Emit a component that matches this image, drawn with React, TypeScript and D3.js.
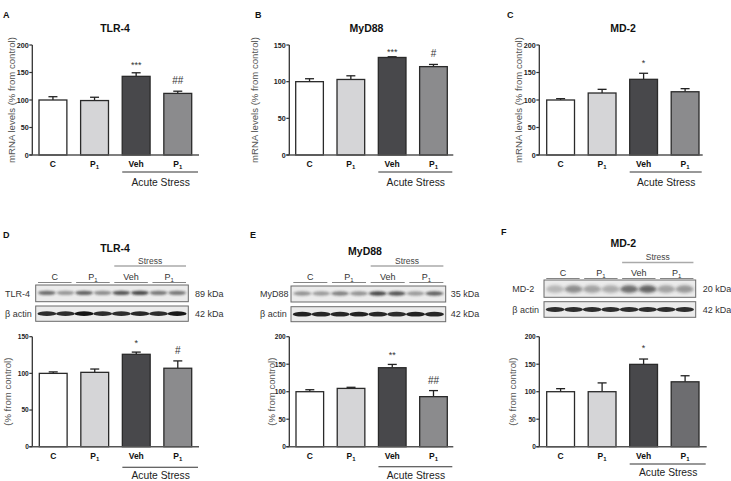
import React from "react";
import * as d3 from "d3";

// ---------- data ----------
const categories = ["C", "P1", "Veh", "P1"];
const barColors = ["#ffffff", "#d5d5d7", "#48484b", "#8b8b8d"];

const tlr4Mrna = [100, 99, 143, 112];
const tlr4MrnaErr = [6, 6, 6.5, 4];
const tlr4MrnaSig = ["", "", "***", "##"];

const myd88Mrna = [100, 103, 133, 120.5];
const myd88MrnaErr = [4, 5, 1, 3];
const myd88MrnaSig = ["", "", "***", "#"];

const md2Mrna = [100, 112.7, 137.6, 115];
const md2MrnaErr = [2.4, 6.7, 11, 5.6];
const md2MrnaSig = ["", "", "*", ""];

const tlr4Prot = [100, 101.4, 126, 107];
const tlr4ProtErr = [2, 4.5, 3, 10];
const tlr4ProtSig = ["", "", "*", "#"];

const myd88Prot = [100, 106, 143.6, 91];
const myd88ProtErr = [3.6, 2, 6, 11];
const myd88ProtSig = ["", "", "**", "##"];

const md2Prot = [100, 100, 149.7, 118];
const md2ProtErr = [5.5, 16, 9.7, 11];
const md2ProtSig = ["", "", "*", ""];

const ticks150 = [0, 50, 100, 150];
const ticks200 = [0, 50, 100, 150, 200];

// blot band intensities (8 lanes: C, C, P1, P1, Veh, Veh, P1, P1)
const tlr4Bands = [0.6, 0.4, 0.65, 0.45, 0.72, 0.78, 0.55, 0.55];
const tlr4Actin = [0.85, 0.85, 0.97, 0.85, 0.85, 0.88, 0.85, 0.95];
const myd88Bands = [0.42, 0.38, 0.5, 0.42, 0.78, 0.72, 0.38, 0.65];
const myd88Actin = [0.9, 0.88, 0.88, 0.9, 0.88, 0.85, 0.9, 0.88];
const md2Bands = [0.25, 0.45, 0.35, 0.3, 0.6, 0.65, 0.35, 0.4];
const md2Actin = [0.85, 0.85, 0.85, 0.85, 0.85, 0.85, 0.85, 0.85];

const FONT = "Arial, 'Liberation Sans', Helvetica, sans-serif";

type BarPanel = {
  letter: string; letterX: number; letterY: number;
  title: string; titleX: number; titleY: number;
  values: number[]; errs: number[]; sig: string[];
  max: number; ticks: number[];
  axisX: number; axisEnd: number; barStart: number; barEnd: number;
  top: number; bottom: number;
  yLabel: string; yLabelX: number;
  lastColor?: string;
  stressOffset: number; stressTextGap: number; tickFont: number; sigGap: number;
};

const barPanels: BarPanel[] = [
  { letter: "A", letterX: 3, letterY: 17.5, title: "TLR-4", titleX: 115, titleY: 32,
    values: tlr4Mrna, errs: tlr4MrnaErr, sig: tlr4MrnaSig, max: 200, ticks: ticks200,
    axisX: 32.3, axisEnd: 199, barStart: 39, barEnd: 191.7, top: 45, bottom: 155,
    yLabel: "mRNA levels (% from control)", yLabelX: 12.5, stressOffset: 17, stressTextGap: 13.5, tickFont: 7.2, sigGap: 5 },
  { letter: "B", letterX: 255, letterY: 17.5, title: "MyD88", titleX: 366.5, titleY: 32,
    values: myd88Mrna, errs: myd88MrnaErr, sig: myd88MrnaSig, max: 150, ticks: ticks150,
    axisX: 289.3, axisEnd: 453.3, barStart: 295.7, barEnd: 447.3, top: 45, bottom: 155,
    yLabel: "mRNA levels (% from control)", yLabelX: 255, stressOffset: 17, stressTextGap: 13.5, tickFont: 7.2, sigGap: 2 },
  { letter: "C", letterX: 507, letterY: 17.5, title: "MD-2", titleX: 623, titleY: 32,
    values: md2Mrna, errs: md2MrnaErr, sig: md2MrnaSig, max: 200, ticks: ticks200,
    axisX: 539.3, axisEnd: 702.7, barStart: 546.7, barEnd: 699, top: 45, bottom: 155,
    yLabel: "mRNA levels (% from control)", yLabelX: 519.5, stressOffset: 17, stressTextGap: 13.5, tickFont: 7.2, sigGap: 7 },
  { letter: "", letterX: 0, letterY: 0, title: "", titleX: 0, titleY: 0,
    values: tlr4Prot, errs: tlr4ProtErr, sig: tlr4ProtSig, max: 150, ticks: ticks150,
    axisX: 32.3, axisEnd: 199, barStart: 39.3, barEnd: 191.7, top: 336.7, bottom: 446.7,
    yLabel: "(% from control)", yLabelX: 8.5, stressOffset: 20.5, stressTextGap: 12, tickFont: 6.6, sigGap: 6.5 },
  { letter: "", letterX: 0, letterY: 0, title: "", titleX: 0, titleY: 0,
    values: myd88Prot, errs: myd88ProtErr, sig: myd88ProtSig, max: 200, ticks: ticks200,
    axisX: 289.3, axisEnd: 453.3, barStart: 296, barEnd: 447.3, top: 336.7, bottom: 446.7,
    yLabel: "(% from control)", yLabelX: 272.5, stressOffset: 20, stressTextGap: 12.5, tickFont: 6.6, sigGap: 6.5 },
  { letter: "", letterX: 0, letterY: 0, title: "", titleX: 0, titleY: 0,
    values: md2Prot, errs: md2ProtErr, sig: md2ProtSig, max: 200, ticks: ticks200,
    axisX: 539.3, axisEnd: 706.7, barStart: 546.7, barEnd: 699, top: 336.7, bottom: 446.7,
    yLabel: "(% from control)", yLabelX: 513.5, lastColor: "#6d6d70", stressOffset: 17.3, stressTextGap: 12, tickFont: 6.6, sigGap: 8.5 },
];

type BlotPanel = {
  letter: string; letterX: number; letterY: number;
  title: string; titleX: number; titleY: number;
  stressY: number; groupY: number; underlineY: number;
  boxX0: number; boxX1: number;
  row1: [number, number]; row2: [number, number];
  name: string; nameX: number; kda: string; kdaX: number;
  bands: number[]; actin: number[]; diffuse?: boolean;
};

const blotPanels: BlotPanel[] = [
  { letter: "D", letterX: 3, letterY: 238, title: "TLR-4", titleX: 115, titleY: 251.5,
    stressY: 266, groupY: 281, underlineY: 282.5, boxX0: 35.7, boxX1: 188.3,
    row1: [285, 301.7], row2: [306, 321.3], name: "TLR-4", nameX: 5, kda: "89 kDa", kdaX: 195,
    bands: tlr4Bands, actin: tlr4Actin },
  { letter: "E", letterX: 250, letterY: 238, title: "MyD88", titleX: 365, titleY: 255,
    stressY: 266, groupY: 281, underlineY: 282.5, boxX0: 291, boxX1: 445.7,
    row1: [286, 302], row2: [306.7, 321.7], name: "MyD88", nameX: 260, kda: "35 kDa", kdaX: 450.7,
    bands: myd88Bands, actin: myd88Actin },
  { letter: "F", letterX: 501, letterY: 234.5, title: "MD-2", titleX: 623.3, titleY: 246.5,
    stressY: 262.5, groupY: 277, underlineY: 278.5, boxX0: 544, boxX1: 695.7,
    row1: [280, 297.3], row2: [301.7, 317.3], name: "MD-2", nameX: 512.3, kda: "20 kDa", kdaX: 702.7,
    bands: md2Bands, actin: md2Actin, diffuse: true },
];

function CatLabel({ label, x, y }: { label: string; x: number; y: number }) {
  if (label === "P1") {
    return (
      <text x={x} y={y} textAnchor="middle" fontFamily={FONT} fontSize={8.5} fontWeight="bold" fill="#111">
        P<tspan fontSize={6} dy={2}>1</tspan>
      </text>
    );
  }
  return (
    <text x={x} y={y} textAnchor="middle" fontFamily={FONT} fontSize={8.5} fontWeight="bold" fill="#111">
      {label}
    </text>
  );
}

function BarChart({ p }: { p: BarPanel }) {
  const x = d3.scaleBand<number>().domain(d3.range(categories.length)).range([p.barStart, p.barEnd]).paddingInner(0.33).paddingOuter(0);
  const y = d3.scaleLinear().domain([0, p.max]).range([p.bottom, p.top]);
  const bw = x.bandwidth();
  const stressY = p.bottom + p.stressOffset;
  return (
    <g>
      {p.letter && (
        <text x={p.letterX} y={p.letterY} fontFamily={FONT} fontSize={9} fontWeight="bold" fill="#111">{p.letter}</text>
      )}
      {p.title && (
        <text x={p.titleX} y={p.titleY} textAnchor="middle" fontFamily={FONT} fontSize={10.5} fontWeight="bold" fill="#111">{p.title}</text>
      )}
      <text transform={`translate(${p.yLabelX},${(p.top + p.bottom) / 2}) rotate(-90)`} textAnchor="middle" dominantBaseline="middle"
        fontFamily={FONT} fontSize={9.6} fill="#555">{p.yLabel}</text>
      {p.values.map((v, i) => {
        const bx = x(i)!;
        const fill = i === 3 && p.lastColor ? p.lastColor : barColors[i];
        const et = y(v + p.errs[i]);
        const cx = bx + bw / 2;
        return (
          <g key={i}>
            <line x1={cx} x2={cx} y1={y(v)} y2={et} stroke="#222" strokeWidth={1.3} />
            <line x1={cx - 4.5} x2={cx + 4.5} y1={et} y2={et} stroke="#222" strokeWidth={1.3} />
            <rect x={bx} y={y(v)} width={bw} height={p.bottom - y(v)} fill={fill} stroke="#2a2a2a" strokeWidth={1.3} />
            {p.sig[i] && (
              p.sig[i].startsWith("*") ? (
                <text x={cx} y={et - p.sigGap} textAnchor="middle" fontFamily={FONT} fontSize={9} fill="#333">{p.sig[i]}</text>
              ) : (
                <text x={cx} y={et - 7} textAnchor="middle" fontFamily={FONT} fontSize={10} fill="#333">{p.sig[i]}</text>
              )
            )}
            <CatLabel label={categories[i]} x={cx} y={p.bottom + 12} />
          </g>
        );
      })}
      <line x1={p.axisX} x2={p.axisX} y1={p.top} y2={p.bottom} stroke="#333" strokeWidth={1.3} />
      <line x1={p.axisX - 3} x2={p.axisEnd} y1={p.bottom} y2={p.bottom} stroke="#555" strokeWidth={1.4} />
      {p.ticks.map((t) => (
        <g key={t}>
          <line x1={p.axisX - 3} x2={p.axisX} y1={y(t)} y2={y(t)} stroke="#333" strokeWidth={1.2} />
          <text x={p.axisX - 3.5} y={y(t)} dy="0.35em" textAnchor="end" fontFamily={FONT} fontSize={p.tickFont} fontWeight="bold" fill="#222">{t}</text>
        </g>
      ))}
      <line x1={x(2)!} x2={p.axisEnd - 1} y1={stressY} y2={stressY} stroke="#333" strokeWidth={1.1} />
      <text x={(x(2)! + p.axisEnd) / 2} y={stressY + p.stressTextGap} textAnchor="middle" fontFamily={FONT} fontSize={10.3} fill="#222">Acute Stress</text>
    </g>
  );
}

function Blot({ p }: { p: BlotPanel }) {
  const lanes = d3.scaleBand<number>().domain(d3.range(8)).range([p.boxX0, p.boxX1]).padding(0.2);
  const groups = d3.scaleBand<number>().domain(d3.range(4)).range([p.boxX0, p.boxX1]).paddingInner(0.12).paddingOuter(0.06);
  const groupLabels = ["C", "P1", "Veh", "P1"];
  const r1c = (p.row1[0] + p.row1[1]) / 2;
  const r2c = (p.row2[0] + p.row2[1]) / 2;
  const stressX0 = groups(2)!;
  const stressX1 = groups(3)! + groups.bandwidth();
  return (
    <g>
      <text x={p.letterX} y={p.letterY} fontFamily={FONT} fontSize={9} fontWeight="bold" fill="#111">{p.letter}</text>
      <text x={p.titleX} y={p.titleY} textAnchor="middle" fontFamily={FONT} fontSize={10.5} fontWeight="bold" fill="#111">{p.title}</text>
      <text x={(stressX0 + stressX1) / 2} y={p.stressY - 2.5} textAnchor="middle" fontFamily={FONT} fontSize={8.5} fill="#444">Stress</text>
      <line x1={stressX0} x2={stressX1} y1={p.stressY} y2={p.stressY} stroke="#aaa" strokeWidth={1.3} />
      {groupLabels.map((g, i) => {
        const gx = groups(i)!;
        const cx = gx + groups.bandwidth() / 2;
        return (
          <g key={i}>
            {g === "P1" ? (
              <text x={cx} y={p.groupY - 1} textAnchor="middle" fontFamily={FONT} fontSize={9} fill="#333">
                P<tspan fontSize={6} dy={2}>1</tspan>
              </text>
            ) : (
              <text x={cx} y={p.groupY - 1} textAnchor="middle" fontFamily={FONT} fontSize={9} fill="#333">{g}</text>
            )}
            <line x1={gx} x2={gx + groups.bandwidth()} y1={p.underlineY} y2={p.underlineY} stroke="#777" strokeWidth={0.9} />
          </g>
        );
      })}
      <rect x={p.boxX0} y={p.row1[0]} width={p.boxX1 - p.boxX0} height={p.row1[1] - p.row1[0]} fill="#ebebeb" stroke="#6a6a6a" strokeWidth={1} />
      <rect x={p.boxX0} y={p.row2[0]} width={p.boxX1 - p.boxX0} height={p.row2[1] - p.row2[0]} fill="#ebebeb" stroke="#6a6a6a" strokeWidth={1} />
      {p.bands.map((b, i) => (
        <ellipse key={"b" + i} cx={lanes(i)! + lanes.bandwidth() / 2} cy={r1c + (p.diffuse ? 0.5 : -0.5)}
          rx={lanes.bandwidth() / 2 + 1.5} ry={p.diffuse ? 3.8 : 2.2} fill="#1e1e1e" opacity={b}
          filter={`url(#${p.diffuse ? "blurD" : "blurB"})`} />
      ))}
      {p.actin.map((b, i) => (
        <ellipse key={"a" + i} cx={lanes(i)! + lanes.bandwidth() / 2} cy={r2c}
          rx={lanes.bandwidth() / 2 + 2} ry={2.4} fill="#111" opacity={b} filter="url(#blurA)" />
      ))}
      <text x={p.nameX} y={r1c} dy="0.35em" fontFamily={FONT} fontSize={9} fill="#333">{p.name}</text>
      <text x={p.nameX} y={r2c} dy="0.35em" fontFamily={FONT} fontSize={9} fill="#333">β actin</text>
      <text x={p.kdaX} y={r1c} dy="0.35em" fontFamily={FONT} fontSize={9} fill="#333">{p.kda}</text>
      <text x={p.kdaX} y={r2c} dy="0.35em" fontFamily={FONT} fontSize={9} fill="#333">42 kDa</text>
    </g>
  );
}

export default function App() {
  return (
    <svg width={731} height={481} viewBox="0 0 731 481" style={{ position: "absolute", left: 0, top: 0, background: "#fff" }}>
      <defs>
        <filter id="blurB" x="-50%" y="-100%" width="200%" height="300%"><feGaussianBlur stdDeviation="0.9" /></filter>
        <filter id="blurA" x="-50%" y="-100%" width="200%" height="300%"><feGaussianBlur stdDeviation="0.7" /></filter>
        <filter id="blurD" x="-50%" y="-100%" width="200%" height="300%"><feGaussianBlur stdDeviation="1.8" /></filter>
      </defs>
      <rect width={731} height={481} fill="#fff" />
      {barPanels.map((p, i) => <BarChart key={i} p={p} />)}
      {blotPanels.map((p, i) => <Blot key={i} p={p} />)}
    </svg>
  );
}
